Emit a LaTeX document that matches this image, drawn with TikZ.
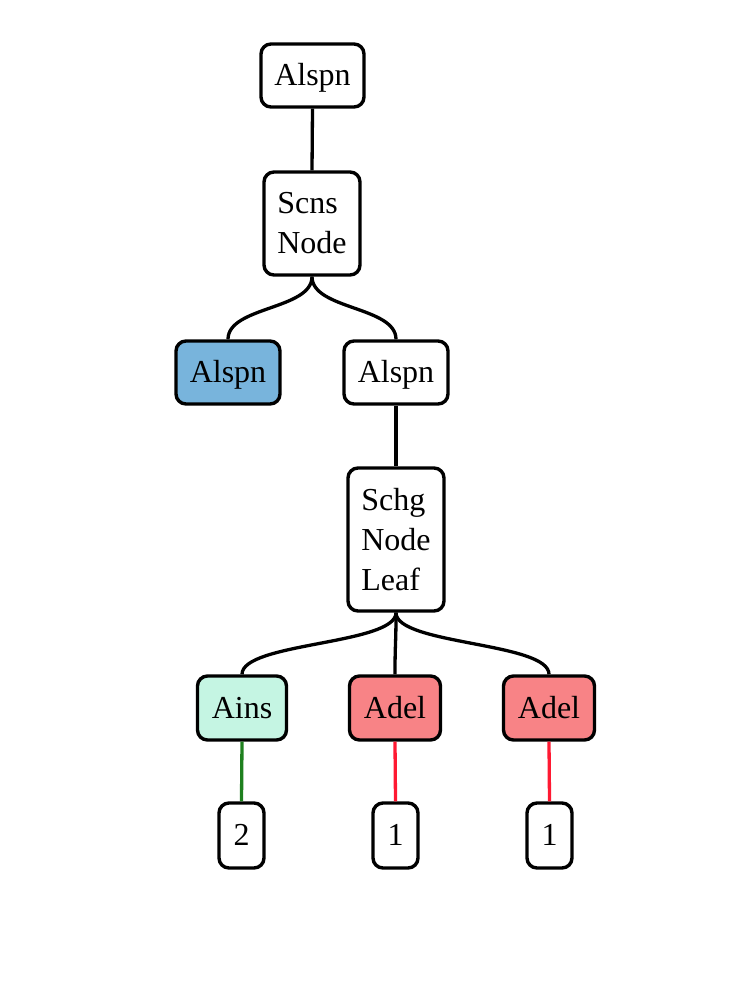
\documentclass[tikz,border=0pt]{standalone}
\usepackage{fontspec}
\setmainfont{Liberation Serif}
\usetikzlibrary{calc}
\definecolor{nblue}{RGB}{120,180,220}
\definecolor{nmint}{RGB}{197,245,227}
\definecolor{ncoral}{RGB}{248,131,134}
\definecolor{egreen}{RGB}{30,128,30}
\definecolor{ered}{RGB}{255,25,50}
\tikzset{
  box/.style={draw=black, line width=3.4pt, rounded corners=10pt, fill=white,
    inner sep=0pt, align=left, font=\fontsize{32}{40}\selectfont},
  oneline/.style={box, text height=28pt, text depth=8pt},
  edge/.style={line width=3.3pt, draw=black},
}
\begin{document}
\begin{tikzpicture}[x=1pt,y=-1pt]
\useasboundingbox (0,0) rectangle (750,982);
\node[oneline, minimum width=103pt, minimum height=63pt] (a1) at (312.5,75.5) {Alspn};
\node[box, minimum width=96pt, minimum height=103pt] (s1) at (312,223.5) {Scns\\Node};
\node[oneline, fill=nblue, minimum width=104pt, minimum height=63pt] (a2) at (228,372.5) {Alspn};
\node[oneline, minimum width=104pt, minimum height=63pt] (a3) at (396,372.5) {Alspn};
\node[box, minimum width=96pt, minimum height=143pt] (s2) at (396,539.5) {Schg\\Node\\Leaf};
\node[oneline, fill=nmint, minimum width=89pt, minimum height=64pt] (i1) at (242,708) {Ains};
\node[oneline, fill=ncoral, minimum width=91pt, minimum height=64pt] (d1) at (395,708) {Adel};
\node[oneline, fill=ncoral, minimum width=91pt, minimum height=64pt] (d2) at (549,708) {Adel};
\node[oneline, minimum width=45pt, minimum height=65pt] (l1) at (241.5,835.5) {2};
\node[oneline, minimum width=45pt, minimum height=65pt] (l2) at (395.5,835.5) {1};
\node[oneline, minimum width=45pt, minimum height=65pt] (l3) at (549.5,835.5) {1};
\draw[edge] (a1.south) -- (s1.north);
\draw[edge] (s1.south) .. controls +(0,33) and +(0,-33) .. (a2.north);
\draw[edge] (s1.south) .. controls +(0,33) and +(0,-33) .. (a3.north);
\draw[edge] (a3.south) -- (s2.north);
\draw[edge] (s2.south) .. controls +(0,32) and +(0,-32) .. (i1.north);
\draw[edge] (s2.south) .. controls +(0,32) and +(0,-32) .. (d1.north);
\draw[edge] (s2.south) .. controls +(0,32) and +(0,-32) .. (d2.north);
\draw[edge, draw=egreen] (i1.south) -- (l1.north);
\draw[edge, draw=ered] (d1.south) -- (l2.north);
\draw[edge, draw=ered] (d2.south) -- (l3.north);
\end{tikzpicture}
\end{document}
